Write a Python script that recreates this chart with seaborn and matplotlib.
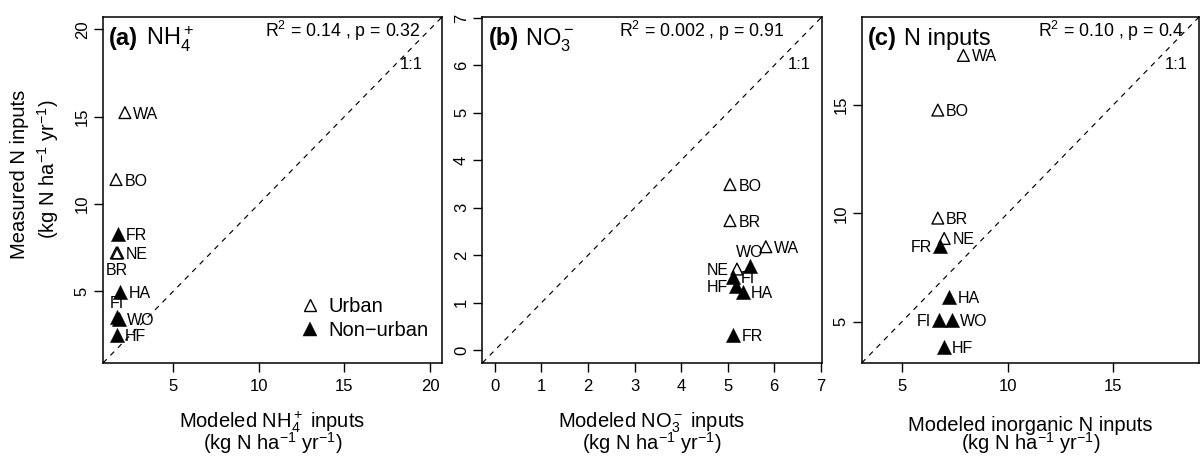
import numpy as np
import pandas as pd
import matplotlib
matplotlib.use("Agg")
import matplotlib.pyplot as plt
from matplotlib.lines import Line2D
import seaborn as sns

# ---------------- data ----------------
sites = ["WA", "BO", "BR", "NE", "FR", "HA", "FI", "WO", "HF"]
urban = [True, True, True, True, False, False, False, False, False]

nh4_modeled = [2.18, 1.66, 1.68, 1.76, 1.75, 1.89, 1.70, 1.83, 1.70]
nh4_measured = [15.23, 11.40, 7.20, 7.20, 8.30, 4.96, 3.53, 3.44, 2.48]
nh4_pos = ["r", "r", "b", "r", "r", "r", "t", "r", "r"]

no3_modeled = [5.82, 5.05, 5.05, 5.20, 5.12, 5.32, 5.11, 5.48, 5.18]
no3_measured = [2.18, 3.49, 2.73, 1.71, 0.32, 1.22, 1.54, 1.78, 1.36]
no3_pos = ["r", "r", "r", "l", "r", "r", "r", "t", "l"]

tot_modeled = [7.91, 6.70, 6.70, 7.00, 6.81, 7.24, 6.76, 7.36, 6.97]
tot_measured = [17.28, 14.76, 9.78, 8.84, 8.49, 6.16, 5.08, 5.08, 3.82]
tot_pos = ["r", "r", "r", "r", "l", "r", "l", "r", "r"]

panel_tags = ["(a)", "(b)", "(c)"]
panel_names = ["NH$_4^+$", "NO$_3^-$", "N inputs"]
stats_text = ["R$^2$ = 0.14 , p = 0.32", "R$^2$ = 0.002 , p = 0.91", "R$^2$ = 0.10 , p = 0.4"]
xlabels = ["Modeled NH$_4^+$ inputs", "Modeled NO$_3^-$ inputs", "Modeled inorganic N inputs"]
unit_label = "(kg N ha$^{-1}$ yr$^{-1}$)"
ylabel = "Measured N inputs"
limits = [(0.9, 20.7), (-0.27, 7.02), (3.1, 19.05)]
ticks = [[5, 10, 15, 20], [0, 1, 2, 3, 4, 5, 6, 7], [5, 10, 15]]
legend_labels = ["Urban", "Non\u2212urban"]

# ---------------- style ----------------
sns.set_theme(style="white")
plt.rcParams["font.family"] = ["Liberation Sans", "DejaVu Sans"]
plt.rcParams["mathtext.fontset"] = "custom"
plt.rcParams["mathtext.rm"] = "Liberation Sans"
plt.rcParams["mathtext.it"] = "Liberation Sans:italic"
plt.rcParams["mathtext.bf"] = "Liberation Sans:bold"
plt.rcParams["axes.unicode_minus"] = True
plt.rcParams["text.color"] = "black"
plt.rcParams["axes.labelcolor"] = "black"
plt.rcParams["xtick.color"] = "black"
plt.rcParams["ytick.color"] = "black"

W, H = 1201, 462
fig = plt.figure(figsize=(W / 100, H / 100), dpi=100)

ax_px = [(103, 442), (482.3, 821.7), (861.7, 1199)]
top_px, bot_px = 17, 363

datasets = [
    (nh4_modeled, nh4_measured, nh4_pos),
    (no3_modeled, no3_measured, no3_pos),
    (tot_modeled, tot_measured, tot_pos),
]
stats_x = [0.478, 0.404, 0.524]
oneone_x = [0.91, 0.933, 0.932]

for i, (xs, ys, pos) in enumerate(datasets):
    l, r = ax_px[i]
    ax = fig.add_axes([l / W, 1 - bot_px / H, (r - l) / W, (bot_px - top_px) / H])
    df = pd.DataFrame({"site": sites, "x": xs, "y": ys, "urban": urban, "pos": pos})
    du = df[df.urban]
    dn = df[~df.urban]
    sns.scatterplot(data=du, x="x", y="y", marker="^", s=72, color="black",
                    facecolor="none", edgecolor="black", linewidth=1.0,
                    legend=False, ax=ax, zorder=3)
    sns.scatterplot(data=dn, x="x", y="y", marker="^", s=105, color="black",
                    facecolor="black", edgecolor="black", linewidth=0.3,
                    legend=False, ax=ax, zorder=3)
    # 1:1 line
    ax.axline((0, 0), slope=1, color="black", lw=0.85, ls=(0, (4.5, 4.5)), zorder=1)

    # point labels
    for _, row in df.iterrows():
        p = row["pos"]
        if p == "r":
            off, ha, va = (6.0, 0), "left", "center_baseline"
        elif p == "l":
            off, ha, va = (-6.0, 0), "right", "center_baseline"
        elif p == "t":
            off, ha, va = (0, 10.5), "center", "center_baseline"
        else:
            off, ha, va = (0, -11.5), "center", "center_baseline"
        ax.annotate(row["site"], (row["x"], row["y"]), xytext=off,
                    textcoords="offset points", ha=ha, va=va, fontsize=11.5,
                    color="black", zorder=4)

    lo, hi = limits[i]
    ax.set_xlim(lo, hi)
    ax.set_ylim(lo, hi)
    ax.set_xticks(ticks[i])
    ax.set_yticks(ticks[i])
    ax.tick_params(axis="both", direction="out", length=6.5, width=1.0,
                   color="black", labelsize=12, labelcolor="black",
                   bottom=True, left=True)
    ax.tick_params(axis="x", pad=5)
    ax.tick_params(axis="y", pad=3)
    for lab in ax.get_yticklabels():
        lab.set_rotation(90)
        lab.set_va("center")
    for sp in ax.spines.values():
        sp.set_visible(True)
        sp.set_color("black")
        sp.set_linewidth(1.1)
    ax.set_xlabel("")
    ax.set_ylabel("")
    ax.set_facecolor("white")

    # titles and annotation
    ax.text(0.018, 0.918, panel_tags[i], transform=ax.transAxes, fontsize=17,
            fontweight="bold", ha="left", va="baseline")
    ax.text(0.126, 0.918, panel_names[i], transform=ax.transAxes, fontsize=17,
            ha="left", va="baseline")
    ax.text(stats_x[i], 0.943, stats_text[i], transform=ax.transAxes, fontsize=12.8,
            ha="left", va="baseline")
    ax.text(oneone_x[i], 0.862, "1:1", transform=ax.transAxes, fontsize=12,
            ha="center", va="center")

    # x label (two lines in one text; 'baseline' = last line's baseline)
    axh = bot_px - top_px
    ax.text(0.5, -(449.5 - bot_px) / axh, xlabels[i] + "\n" + unit_label,
            transform=ax.transAxes, fontsize=14.5, ha="center", va="baseline",
            multialignment="center", linespacing=0.75)

    if i == 0:
        axw = r - l
        ax.text((25 - l) / axw, 0.545, ylabel, transform=ax.transAxes, fontsize=14.5,
                rotation=90, rotation_mode="anchor", ha="center", va="baseline")
        ax.text((54.5 - l) / axw, 0.56, unit_label, transform=ax.transAxes, fontsize=14.5,
                rotation=90, rotation_mode="anchor", ha="center", va="baseline")
        handles = [
            Line2D([], [], marker="^", ls="", mfc="none", mec="black", mew=1.0, ms=9),
            Line2D([], [], marker="^", ls="", mfc="black", mec="black", mew=0.3, ms=10.5),
        ]
        ax.legend(handles, legend_labels, loc="upper left", bbox_to_anchor=(0.582, 0.19),
                  frameon=False, fontsize=14.5, handlelength=1.0, handletextpad=0.4,
                  borderpad=0, borderaxespad=0, labelspacing=0.22)

fig.savefig("out.png", dpi=100, facecolor="white")
